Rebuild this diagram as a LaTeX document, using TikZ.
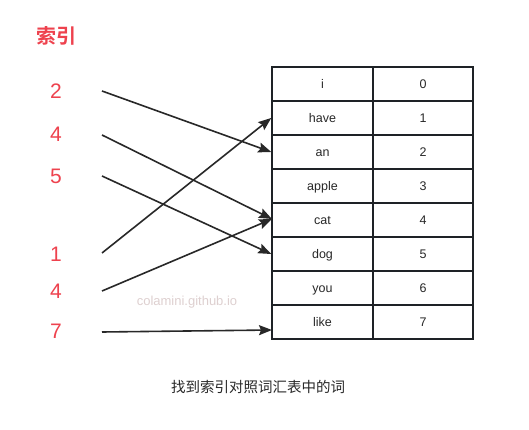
\documentclass[tikz,border=0pt]{standalone}
\usepackage{fontspec}
\setmainfont{Liberation Sans}
\newfontfamily\cjk{Noto Sans CJK SC}
\newfontfamily\cjkbold{Noto Sans CJK SC Bold}
\usetikzlibrary{arrows.meta}
\definecolor{idxred}{RGB}{238,66,78}
\definecolor{ink}{RGB}{40,40,40}
\definecolor{tabline}{RGB}{30,34,38}
\definecolor{wm}{RGB}{222,208,208}
\tikzset{
  cell/.style={draw=tabline, line width=2pt, minimum width=100.5pt, minimum height=34pt,
    inner sep=0pt, font=\fontsize{12.5}{14}\selectfont, text=ink, anchor=center,
    text height=10pt, text depth=1pt},
  idx/.style={text=idxred, font=\fontsize{21}{24}\selectfont, inner sep=0pt},
  conn/.style={draw=ink, line width=1.6pt, -{Stealth[length=13pt,width=10pt,inset=2pt]}}
}
\begin{document}
\begin{tikzpicture}[x=1pt,y=-1pt]
\useasboundingbox (0,0) rectangle (529,430);
\fill[white] (0,0) rectangle (529,430);
% title
\node[text=idxred, font=\cjkbold\fontsize{20}{22}\selectfont, inner sep=0pt] (title) at (56,36) {索引};
% index numbers
\node[idx] (n2) at (56,91) {2};
\node[idx] (n4a) at (56,134) {4};
\node[idx] (n5) at (56,176) {5};
\node[idx] (n1) at (56,254) {1};
\node[idx] (n4b) at (56,291) {4};
\node[idx] (n7) at (56,331) {7};
% table
\foreach \w/\n [count=\k from 0] in {i/0,have/1,an/2,apple/3,cat/4,dog/5,you/6,like/7}{
  \node[cell] (w\k) at (322.5,{84+34*\k}) {\w};
  \node[cell] (v\k) at (423,{84+34*\k}) {\n};
}
% connector end points
\coordinate (s2) at (102,91);
\coordinate (s4a) at (102,135);
\coordinate (s5) at (102,176);
\coordinate (s1) at (102,253);
\coordinate (s4b) at (102,291);
\coordinate (s7) at (102,332);
\coordinate (likeend) at (272,330);
\coordinate (catend) at (272,219);
% connectors
\draw[conn] (s2) -- (w2.west);
\draw[conn] (s4a) -- (catend);
\draw[conn] (s5) -- (w5.west);
\draw[conn] (s1) -- (w1.west);
\draw[conn] (s4b) -- (catend);
\draw[conn] (s7) -- (likeend);
% watermark
\node[text=wm, font=\fontsize{13}{15}\selectfont, inner sep=0pt] (wmark) at (187,302) {colamini.github.io};
% caption
\node[text=ink, font=\cjk\fontsize{14.5}{16}\selectfont, inner sep=0pt] (cap) at (258,387) {找到索引对照词汇表中的词};
\end{tikzpicture}
\end{document}
